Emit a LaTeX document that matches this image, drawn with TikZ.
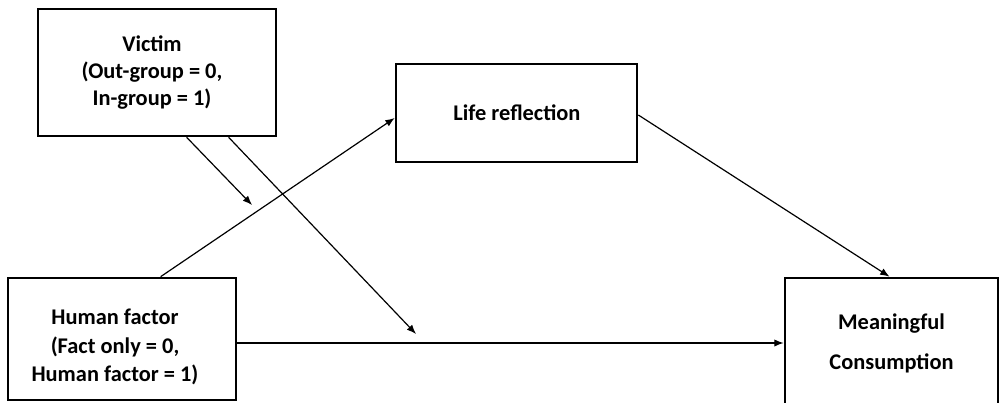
\documentclass[tikz,border=0pt]{standalone}
\usepackage{fontspec}
\setmainfont{Carlito}
\usetikzlibrary{arrows.meta,calc}
\tikzset{
  box/.style={draw=black, line width=2pt, fill=white, inner sep=0pt},
  txt/.style={align=center, inner sep=0pt, font=\fontsize{16.8}{20}\selectfont\bfseries},
  conn/.style={line width=0.9pt, -{Latex[length=7pt,width=5.5pt]}}
}
\begin{document}
\begin{tikzpicture}[x=0.75pt,y=-0.75pt]
\useasboundingbox (0,0) rectangle (999,403);
\clip (0,0) rectangle (999,403);
\fill[white] (0,0) rectangle (999,403);
\node[box, minimum width=178.5pt, minimum height=95.25pt] (v) at (157,72.5) {};
\node[txt] (vt) at (152,72.5) {Victim\\(Out-group = 0,\\In-group = 1)};
\node[box, minimum width=180.75pt, minimum height=73.5pt] (lr) at (516.5,113) {};
\node[txt] (lrt) at (517,113) {Life reflection};
\node[box, minimum width=171pt, minimum height=91.5pt] (hf) at (122,339) {};
\node[txt, font=\fontsize{16.8}{21.5}\selectfont\bfseries] (hft) at (115,347) {Human factor\\(Fact only = 0,\\Human factor = 1)};
\node[box, minimum width=159.75pt, minimum height=97.5pt] (mc) at (891.5,343) {};
\node[txt] (mct) at (891.5,343) {Meaningful\\[10pt]Consumption};
\coordinate (m1) at (252,205);
\coordinate (m2) at (416,334);
\draw[conn] ($(hf.north west)+(154,0)$) -- ($(lr.west)+(0,5)$);
\draw[conn] ($(lr.east)+(0,2)$) -- ($(mc.north)+(-2,0)$);
\draw[conn] (hf.east |- mc.west) -- (mc.west);
\draw[conn] ($(v.south west)+(150,0)$) -- (m1);
\draw[conn] ($(v.south west)+(192,0)$) -- (m2);
\end{tikzpicture}
\end{document}
